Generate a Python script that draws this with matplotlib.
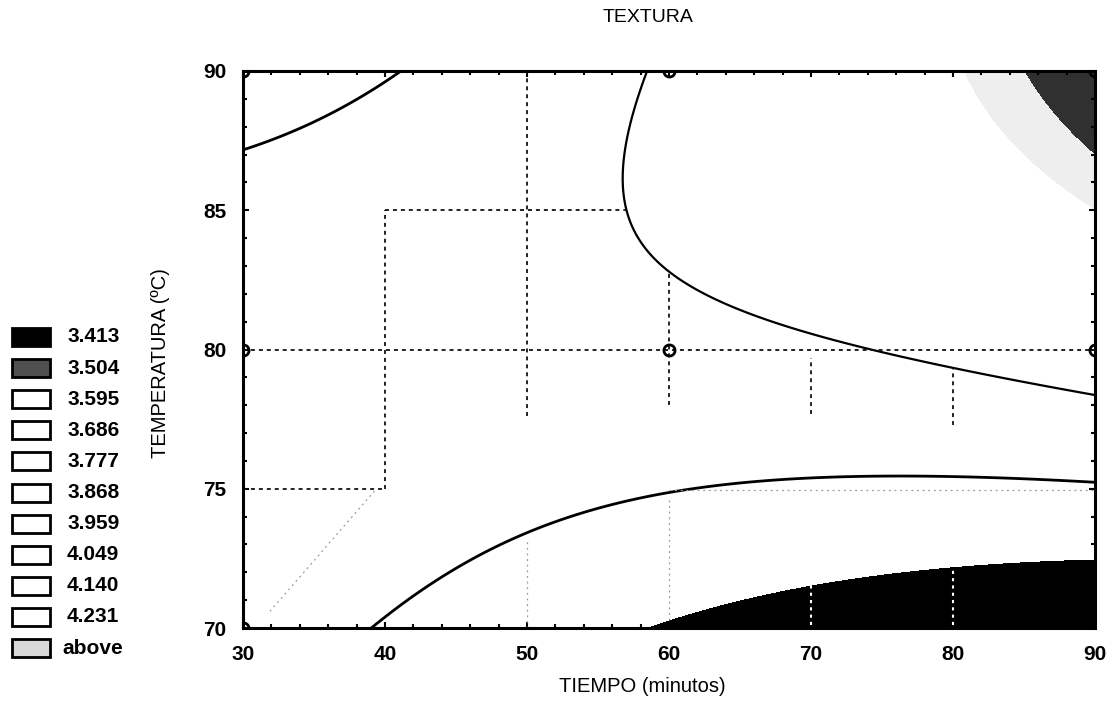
import numpy as np
import matplotlib
matplotlib.use("Agg")
import matplotlib.pyplot as plt
from matplotlib.patches import Rectangle
from matplotlib.ticker import MultipleLocator

plt.rcParams['font.family'] = ['Liberation Sans', 'DejaVu Sans']

# ---------------- data ----------------
title = "TEXTURA"
xlabel = "TIEMPO (minutos)"
ylabel = "TEMPERATURA (ºC)"
x_ticks = [30, 40, 50, 60, 70, 80, 90]
y_ticks = [70, 75, 80, 85, 90]
legend_levels = [3.413, 3.504, 3.595, 3.686, 3.777, 3.868, 3.959, 4.049, 4.140, 4.231]
legend_labels = ["3.413", "3.504", "3.595", "3.686", "3.777", "3.868",
                 "3.959", "4.049", "4.140", "4.231", "above"]

# contour traces (tiempo, temperatura), with their level
black_x = [58.5, 62.2, 70.1, 76.3, 80.0, 89.9]
black_y = [70.0, 70.75, 71.6, 72.0, 72.26, 72.45]
black_level = 3.413
low_top_x = [30.1, 34.5, 38.5, 40.9]
low_top_y = [87.2, 88.0, 89.0, 90.0]
low_bottom_x = [39.4, 42.0, 46.0, 50.0, 53.7, 55.1, 60.0, 69.9, 76.3, 80.0, 89.9]
low_bottom_y = [70.0, 71.25, 72.4, 73.4, 74.1, 74.3, 74.9, 75.35, 75.4, 75.4, 75.2]
low_level = 3.504
mid_x = [58.2, 56.9, 56.8, 57.0, 58.2, 60.1, 65.0, 71.5, 73.9, 80.0, 89.8]
mid_y = [90.0, 87.5, 86.1, 84.9, 83.7, 82.8, 81.5, 80.4, 80.0, 79.3, 78.4]
mid_level = 3.595
dark_x = [84.9, 86.3, 88.0, 89.6]
dark_y = [90.0, 88.9, 88.0, 87.3]
dark_level = 3.777
fringe_level = 3.745   # outer edge of the light speckle round the dark corner

# experimental design points
design_x = [30, 30, 30, 60, 60, 60, 90, 90, 90]
design_y = [70, 80, 90, 70, 80, 90, 70, 80, 90]

# dotted reference segments ((x0, x1), (y0, y1))
dotted_segments = [
    ((30, 90), (80, 80)),
    ((30, 40), (75, 75)),
    ((40, 40), (75, 85)),
    ((40, 57), (85, 85)),
    ((50, 50), (77.6, 90)),
    ((60, 60), (78.0, 82.8)),
    ((70, 70), (77.7, 79.7)),
    ((80, 80), (77.3, 79.3)),
]
faint_segments = [
    ((31.9, 39.4), (70.6, 75.0)),
    ((60, 90), (74.95, 74.95)),
    ((50, 50), (70, 73.2)),
    ((60, 60), (70.3, 74.7)),
]
white_segments = [
    ((70, 70), (70.1, 71.5)),
    ((80, 80), (70.1, 72.1)),
]


def basis(x, y):
    u = (np.asarray(x, float) - 60.0) / 30.0
    v = (np.asarray(y, float) - 80.0) / 10.0
    return np.column_stack([np.ones_like(u), u, v, u * u, v * v, u * v])


px = black_x + low_top_x + low_bottom_x + mid_x + dark_x
py = black_y + low_top_y + low_bottom_y + mid_y + dark_y
pz = ([black_level] * len(black_x) + [low_level] * len(low_top_x) +
      [low_level] * len(low_bottom_x) + [mid_level] * len(mid_x) +
      [dark_level] * len(dark_x))
coef, *_ = np.linalg.lstsq(basis(px, py), np.array(pz), rcond=None)

gx = np.linspace(30, 90, 361)
gy = np.linspace(70, 90, 241)
GX, GY = np.meshgrid(gx, gy)
GZ = (basis(GX.ravel(), GY.ravel()) @ coef).reshape(GX.shape)

# ---------------- figure ----------------
W, H = 1110, 721
fig = plt.figure(figsize=(W / 100, H / 100), dpi=100)
ax = fig.add_axes([243 / W, 1 - 628 / H, (1095 - 243) / W, (628 - 71) / H])

fill_levels = [min(GZ.min(), 3.0) - 1] + legend_levels + [max(GZ.max(), 5.0) + 1]
class_colors = ['#000000', '#ffffff', '#ffffff', '#ffffff', '#ffffff',
                '#303030', '#303030', '#303030', '#303030', '#303030', '#303030']
ax.contourf(GX, GY, GZ, levels=fill_levels, colors=class_colors)
ax.contourf(GX, GY, GZ, levels=[fringe_level, dark_level], colors=['#eeeeee'])
ax.contour(GX, GY, GZ, levels=[low_level], colors='k', linewidths=2.0)
ax.contour(GX, GY, GZ, levels=[mid_level], colors='k', linewidths=1.6)

for (xs, ys) in faint_segments:
    ax.plot(xs, ys, color='#9a9a9a', lw=0.9, ls=(0, (1.5, 3)))
for (xs, ys) in dotted_segments:
    ax.plot(xs, ys, color='#111111', lw=1.3, ls=(0, (2.2, 2.2)))
for (xs, ys) in white_segments:
    ax.plot(xs, ys, color='white', lw=1.5, ls=(0, (1.5, 2)))

ax.plot(design_x, design_y, 'o', ms=8, mfc='none', mec='k', mew=2, clip_on=True)

ax.set_xlim(30, 90)
ax.set_ylim(70, 90)
ax.set_xticks(x_ticks)
ax.set_yticks(y_ticks)
ax.xaxis.set_minor_locator(MultipleLocator(2))
ax.yaxis.set_minor_locator(MultipleLocator(1))
ax.tick_params(which='both', direction='in', top=True, right=True, width=1.5)
ax.tick_params(which='major', length=4, labelsize=15, pad=12)
ax.tick_params(which='minor', length=3)
for lab in ax.get_xticklabels() + ax.get_yticklabels():
    lab.set_fontweight('bold')
for s in ax.spines.values():
    s.set_linewidth(2.2)

fig.text(648 / W, 1 - 18 / H, title, ha='center', va='center', fontsize=14)
fig.text(642 / W, 1 - 686 / H, xlabel, ha='center', va='center', fontsize=14.5)
fig.text(160 / W, 1 - 363 / H, ylabel, ha='center', va='center', rotation=90, fontsize=14.5)

legend_faces = ['#000000', '#505050', 'white', 'white', 'white', 'white',
                'white', 'white', 'white', 'white', '#d8d8d8']
for i, (lab, fc) in enumerate(zip(legend_labels, legend_faces)):
    cy = 337 + 31.1 * i
    fig.patches.append(Rectangle((12 / W, 1 - (cy + 9) / H), 38 / W, 18 / H,
                                 transform=fig.transFigure, facecolor=fc,
                                 edgecolor='k', linewidth=2.0))
    fig.text(67 / W if lab != "above" else 62 / W, 1 - cy / H, lab,
             ha='left', va='center', fontsize=15, fontweight='bold')

fig.savefig("out.png", dpi=100)
